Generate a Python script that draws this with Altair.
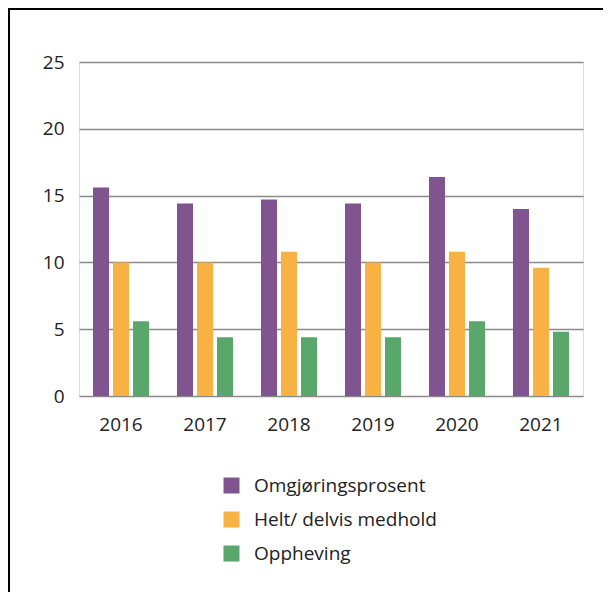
import altair as alt
import pandas as pd

years = ["2016", "2017", "2018", "2019", "2020", "2021"]
series = ["Omgjøringsprosent", "Helt/ delvis medhold", "Oppheving"]
omgjoring = [15.6, 14.4, 14.7, 14.4, 16.4, 14.0]
medhold = [10.0, 10.0, 10.8, 10.0, 10.8, 9.6]
oppheving = [5.6, 4.4, 4.4, 4.4, 5.6, 4.8]
colors = ["#80548e", "#f8b243", "#5aa76c"]

rows = []
for i, y in enumerate(years):
    for s, vals in zip(series, [omgjoring, medhold, oppheving]):
        rows.append({"year": y, "series": s, "value": vals[i]})
df = pd.DataFrame(rows)

FONT = "Open Sans"

bars = alt.Chart(df).mark_bar().encode(
    x=alt.X("year:N", sort=years, title=None,
            scale=alt.Scale(paddingInner=0.333, paddingOuter=0.1667),
            axis=alt.Axis(labelAngle=0, domain=False, ticks=False, labelPadding=19,
                          labelFontSize=19, labelColor="#222222", labelFont=FONT,
                          grid=False)),
    xOffset=alt.XOffset("series:N", sort=series,
                        scale=alt.Scale(paddingInner=0.2, paddingOuter=0)),
    y=alt.Y("value:Q", title=None,
            scale=alt.Scale(domain=[0, 25], nice=False),
            axis=alt.Axis(values=[0, 5, 10, 15, 20, 25], domain=False, ticks=False,
                          labelPadding=15, labelFontSize=19, labelColor="#222222",
                          labelFont=FONT, grid=True, gridColor="#8a8a8a",
                          gridWidth=1.6)),
    color=alt.Color("series:N", sort=series,
                    scale=alt.Scale(domain=series, range=colors),
                    legend=alt.Legend(title=None, orient="none", legendX=143, legendY=414,
                                      symbolType="square", symbolSize=256,
                                      symbolStrokeWidth=0, labelOffset=13,
                                      labelFontSize=19, labelColor="#222222",
                                      labelFont=FONT, rowPadding=14, padding=0,
                                      labelLimit=400)),
)

frame = alt.Data(values=[{"a": 1}])
left = alt.Chart(frame).mark_rule(color="black", strokeWidth=2).encode(
    x=alt.value(-70), x2=alt.value(-70), y=alt.value(-53), y2=alt.value(530))
top = alt.Chart(frame).mark_rule(color="black", strokeWidth=2).encode(
    x=alt.value(-71), x2=alt.value(530), y=alt.value(-53), y2=alt.value(-53))

chart = alt.layer(bars, left, top).properties(
    width=504, height=334,
    autosize=alt.AutoSizeParams(type="none"),
    padding={"left": 71, "top": 54, "right": 20, "bottom": 196},
).configure_view(strokeWidth=0).configure_axis(domain=False).configure(background="white")

chart.save("out.html", embed_options={"renderer": "svg", "actions": False})
